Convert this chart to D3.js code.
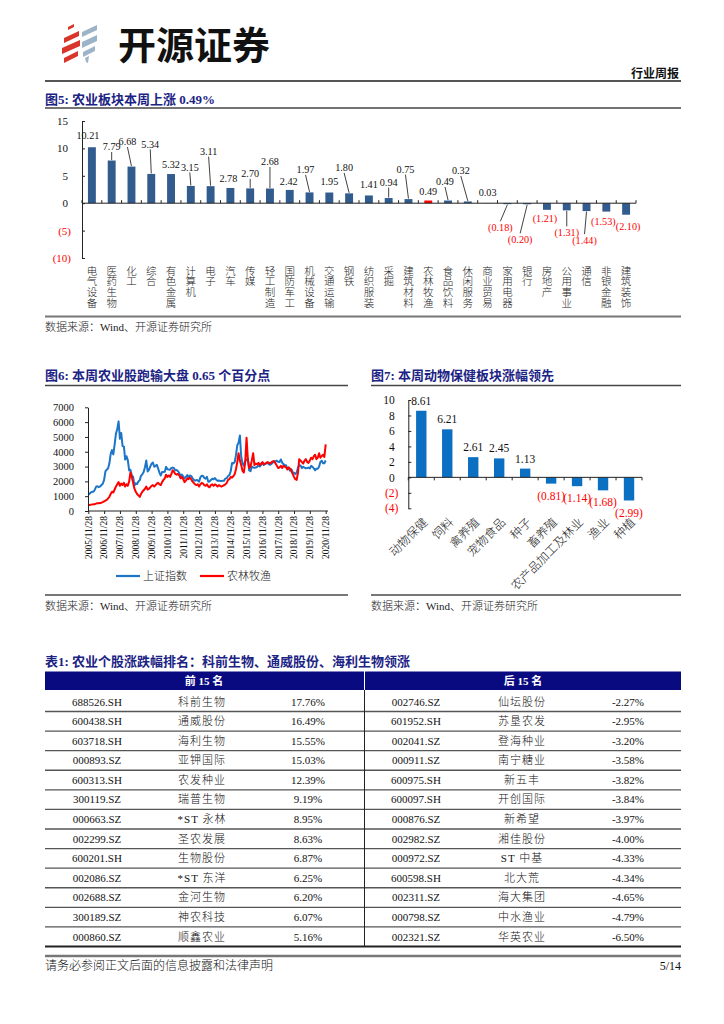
<!DOCTYPE html>
<html><head><meta charset="utf-8">
<script src="https://cdn.jsdelivr.net/npm/d3@7"></script>
<style>body{margin:0;background:#fff}svg{display:block}</style>
</head><body>
<svg id="page" width="724" height="1024"></svg>
<script>
// ---------------- DATA ----------------
const fig5Categories = ["电气设备","医药生物","化工","综合","有色金属","计算机","电子","汽车","传媒","轻工制造","国防军工","机械设备","交通运输","钢铁","纺织服装","采掘","建筑材料","农林牧渔","食品饮料","休闲服务","商业贸易","家用电器","银行","房地产","公用事业","通信","非银金融","建筑装饰"];
const fig5Values = [10.21,7.79,6.68,5.34,5.32,3.15,3.11,2.78,2.70,2.68,2.42,1.97,1.95,1.80,1.41,0.94,0.75,0.49,0.49,0.32,0.03,-0.18,-0.20,-1.21,-1.31,-1.44,-1.53,-2.10];
const fig5Highlight = "农林牧渔";
const fig5YTicks = [15,10,5,0,-5,-10];

const fig6XTickLabels = ["2005/11/28","2006/11/28","2007/11/28","2008/11/28","2009/11/28","2010/11/28","2011/11/28","2012/11/28","2013/11/28","2014/11/28","2015/11/28","2016/11/28","2017/11/28","2018/11/28","2019/11/28","2020/11/28"];
const fig6YTicks = [0,1000,2000,3000,4000,5000,6000,7000];
const fig6SeriesNames = ["上证指数","农林牧渔"];
// monthly values, Nov 2005 .. Nov 2020
const shIndex = [1100,1161,
1258,1299,1298,1440,1642,1672,1612,1658,1752,1837,2099,2675,
2786,2881,3183,3841,4109,3820,4471,5218,5552,6050,4871,5262,
4383,4348,3473,3693,3433,2736,2776,2397,2293,1729,1871,1821,
1991,2082,2374,2477,2633,2959,3412,2668,2779,2996,3195,3277,
2989,3051,3110,2871,2592,2398,2638,2639,2656,2979,2820,2808,
2791,2905,2928,2911,2743,2762,2701,2568,2359,2468,2333,2199,
2292,2428,2262,2396,2372,2225,2103,2047,2086,2069,1980,2269,
2385,2365,2236,2177,2300,1979,1994,2098,2174,2141,2220,2116,
2033,2056,2033,2026,2039,2048,2202,2217,2364,2420,2683,3235,
3210,3310,3748,4442,4612,5100,3664,3206,3053,3383,3445,3539,
2738,2688,3004,2938,2917,2930,2979,3085,3005,3100,3250,3104,
3159,3242,3223,3155,3117,3192,3273,3361,3349,3393,3317,3307,
3481,3259,3169,3082,3095,2847,2876,2725,2821,2603,2588,2494,
2585,2941,3091,3078,2899,2979,2932,2886,2905,2929,2871,3050,
2977,2880,2750,2860,2852,2985,3310,3396,3218,3225,3408];
const agriIndex = [400,410,
430,440,450,460,500,520,520,540,560,600,650,700,
750,850,950,1150,1300,1250,1450,1650,1800,1950,1700,1850,
1750,1900,1650,1800,1700,2000,2600,2300,1900,1500,1300,1150,
1050,950,1150,1300,1400,1500,1650,1450,1500,1600,1700,1750,
1650,1750,1850,1900,1800,1750,1950,2100,2200,2450,2300,2400,
2300,2500,2750,2650,2500,2450,2500,2400,2200,2300,2150,1950,
2050,2200,2150,2250,2150,2000,1900,1800,1750,1800,1650,1800,
1900,1850,1750,1700,1800,1650,1600,1750,1800,1700,1800,1750,
1650,1750,1700,1650,1700,1750,1800,1900,2100,2150,2300,2250,
2350,2500,2800,3300,3900,3400,3100,2700,2600,3300,4950,3500,
2900,3000,3400,3900,3100,3200,3150,3250,3100,3200,3300,3150,
3200,3250,3300,3250,3200,3300,3350,3350,3200,3050,2900,2950,
3050,2900,3050,3000,2950,2800,2950,2850,2700,2500,2300,2150,
2100,2600,3500,3400,3300,3200,3400,3500,3300,3250,3400,3600,
3500,3700,3800,3500,3600,3900,3600,3700,3800,3650,4500];

const fig7Categories = ["动物保健","饲料","禽养殖","宠物食品","种子","畜养殖","农产品加工及林业","渔业","种植"];
const fig7Values = [8.61,6.21,2.61,2.45,1.13,-0.81,-1.14,-1.68,-2.99];
const fig7YTicks = [10,8,6,4,2,0,-2,-4];

const topCodes = ["688526.SH","600438.SH","603718.SH","000893.SZ","600313.SH","300119.SZ","000663.SZ","002299.SZ","600201.SH","002086.SZ","002688.SZ","300189.SZ","000860.SZ"];
const topNames = ["科前生物","通威股份","海利生物","亚钾国际","农发种业","瑞普生物","*ST 永林","圣农发展","生物股份","*ST 东洋","金河生物","神农科技","顺鑫农业"];
const topPct = [17.76,16.49,15.55,15.03,12.39,9.19,8.95,8.63,6.87,6.25,6.20,6.07,5.16];
const bottomCodes = ["002746.SZ","601952.SH","002041.SZ","000911.SZ","600975.SH","600097.SH","000876.SZ","002982.SZ","000972.SZ","600598.SH","002311.SZ","000798.SZ","002321.SZ"];
const bottomNames = ["仙坛股份","苏垦农发","登海种业","南宁糖业","新五丰","开创国际","新希望","湘佳股份","ST 中基","北大荒","海大集团","中水渔业","华英农业"];
const bottomPct = [-2.27,-2.95,-3.20,-3.58,-3.82,-3.84,-3.97,-4.00,-4.33,-4.34,-4.65,-4.79,-6.50];

// label layout nudges for fig 5 (dx, dy px from bar end, leader flag)
const fig5LabelNudge = [[-4,-12,0],[0,-14,1],[-4,-25,1],[-1,-30,1],[0,-10,0],[-1,-19,1],[-2,-35,1],[-2,-10,0],[0,-15,1],[0,-27,1],[-1,-9,0],[-4,-23,1],[0,-11,0],[-5,-26,1],[0,-11,0],[0,-16,1],[-3,-30,1],[0,-9,0],[-3,-19,1],[-7,-31,1],[0,-11,0],[-7,23,1],[-7,35,1],[-2,9,0],[0,22,1],[-2,29,1],[-3,10,0],[2,11.5,0]];

// ---------------- STYLE ----------------
const SERIF = "'Liberation Serif','Noto Sans CJK SC',serif";
const CJK = "'Liberation Serif','Noto Sans CJK SC',sans-serif";
const NAVY = "#1B2384";
const RED = "#FF0000";
const fmt2 = v => v < 0 ? "(" + Math.abs(v).toFixed(2) + ")" : v.toFixed(2);
const fmtInt = v => v < 0 ? "(" + Math.abs(v) + ")" : String(v);

const svg = d3.select("#page");
svg.append("rect").attr("width",724).attr("height",1024).attr("fill","#fff");

// ---------------- HEADER ----------------
const logo = svg.append("g");
const redPolys = [[[68,27],[74,24],[74,27],[68,30]],[[64,38],[79,31],[79,36],[64,43]],[[62,48],[80,40],[80,46],[62,54]],[[64,58],[78,51],[78,56],[64,63]]];
const bluePolys = [[[82,32],[97,25],[97,30],[82,37]],[[82,42],[97,35],[97,41],[82,48]],[[83,52],[95,46],[95,51],[83,57]],[[85,58],[89,56],[88,63],[86,62]]];
logo.selectAll("path.r").data(redPolys).join("path").attr("d",p=>d3.line()(p)+"Z").attr("fill","#D8352B");
logo.selectAll("path.b").data(bluePolys).join("path").attr("d",p=>d3.line()(p)+"Z").attr("fill","#9DB4C8");
svg.append("text").attr("x",118).attr("y",58.5).text("开源证券")
  .attr("font-family","'Noto Sans CJK SC',sans-serif").attr("font-weight",700).attr("font-size",38).attr("fill","#111");
svg.append("text").attr("x",679).attr("y",78).attr("text-anchor","end").text("行业周报")
  .attr("font-family",CJK).attr("font-weight",700).attr("font-size",12).attr("fill","#111");
svg.append("line").attr("x1",45).attr("x2",681).attr("y1",81).attr("y2",81).attr("stroke","#555").attr("stroke-width",2);

function title(x,y,t){
  svg.append("text").attr("x",x).attr("y",y).text(t).attr("font-family",CJK).attr("font-weight",700)
    .attr("font-size",13).attr("fill",NAVY);
}
function hline(x1,x2,y,w,c){
  svg.append("line").attr("x1",x1).attr("x2",x2).attr("y1",y).attr("y2",y).attr("stroke",c||"#555").attr("stroke-width",w||1.5);
}
function source(x,y){
  svg.append("text").attr("x",x).attr("y",y).text("数据来源：Wind、开源证券研究所")
    .attr("font-family",CJK).attr("font-weight",300).attr("font-size",11).attr("fill","#222");
}

// ---------------- FIG 5 ----------------
title(45,104,"图5:  农业板块本周上涨 0.49%");
hline(45,681,108,1.5,"#444");
const g5 = svg.append("g");
const x5 = d3.scaleBand().domain(fig5Categories).range([82,636]).paddingInner(0.6).paddingOuter(0.3);
const y5 = d3.scaleLinear().domain([-10,15]).range([258,121]);
g5.selectAll("rect.bar").data(fig5Values).join("rect")
  .attr("x",(d,i)=>x5(fig5Categories[i])).attr("width",x5.bandwidth())
  .attr("y",d=>y5(Math.max(0,d))).attr("height",d=>Math.abs(y5(d)-y5(0)))
  .attr("fill",(d,i)=>fig5Categories[i]===fig5Highlight?RED:"#335C8E");
const ay5 = g5.append("g").attr("transform","translate(82,0)")
  .call(d3.axisLeft(y5).tickValues(fig5YTicks).tickSize(-3).tickSizeOuter(0).tickPadding(0).tickFormat(fmtInt));
ay5.select(".domain").attr("stroke","#222");
ay5.selectAll(".tick line").attr("stroke","#222");
ay5.selectAll(".tick text").attr("x",d=>d<0?-11:-14).attr("font-family",SERIF).attr("font-size",11)
  .attr("fill",d=>d<0?RED:"#111");
g5.append("line").attr("x1",x5.range()[0]).attr("x2",x5.range()[1]).attr("y1",y5(0)).attr("y2",y5(0)).attr("stroke","#222");
const b5 = fig5Categories.map(c=>x5(c)-x5.step()*0.3).concat([x5.range()[1]]);
g5.selectAll("line.bt").data(b5).join("line").attr("x1",d=>d).attr("x2",d=>d).attr("y1",y5(0)).attr("y2",y5(0)-3).attr("stroke","#222");
fig5Values.forEach((v,i)=>{
  const c = x5(fig5Categories[i]) + x5.bandwidth()/2;
  const ye = y5(v);
  const [dx,dy,lead] = fig5LabelNudge[i];
  const lx = c+dx, ly = ye+dy;
  if(lead){
    const y1 = v>=0 ? ly+5.5 : ly-6;
    g5.append("line").attr("x1",lx).attr("y1",y1).attr("x2",c).attr("y2",v>=0?ye-0.5:ye+0.5).attr("stroke","#111").attr("stroke-width",0.8);
  }
  g5.append("text").attr("x",lx).attr("y",ly).attr("dy","0.35em").attr("text-anchor","middle").text(fmt2(v))
    .attr("font-family",SERIF).attr("font-size",10.2).attr("fill",v<0?RED:"#111");
});
fig5Categories.forEach(c=>{
  const cx = x5(c)+x5.bandwidth()/2;
  const t = g5.append("text").attr("font-family",CJK).attr("font-weight",300).attr("font-size",10.5).attr("fill","#222").attr("text-anchor","middle");
  Array.from(c).forEach((ch,k)=>{
    t.append("tspan").attr("x",cx).attr("y",271+k*10.7).attr("dy","0.35em").text(ch);
  });
});
hline(45,681,316.5,2,"#777");
source(45,331);

// ---------------- FIG 6 ----------------
title(45,380,"图6:  本周农业股跑输大盘 0.65 个百分点");
hline(45,348,385.5,1.5,"#444");
const parseTick = d3.timeParse("%Y/%m/%d");
const x6 = d3.scaleTime().domain([parseTick(fig6XTickLabels[0]),parseTick(fig6XTickLabels[fig6XTickLabels.length-1])]).range([88.3,325.7]);
const y6 = d3.scaleLinear().domain([0,7000]).range([511,407.3]);
const dates6 = shIndex.map((v,i)=>new Date(2005,10+i,28));
const g6 = svg.append("g");
const line6 = d3.line().x((d,i)=>x6(dates6[i])).y(d=>y6(d));
g6.append("path").datum(shIndex).attr("d",line6).attr("fill","none").attr("stroke","#1C75C8").attr("stroke-width",2).attr("stroke-linejoin","round");
g6.append("path").datum(agriIndex).attr("d",line6).attr("fill","none").attr("stroke",RED).attr("stroke-width",2).attr("stroke-linejoin","round");
const ay6 = g6.append("g").attr("transform","translate(88,0)")
  .call(d3.axisLeft(y6).tickValues(fig6YTicks).tickSize(3).tickSizeOuter(0).tickPadding(11).tickFormat(d=>String(d)));
ay6.selectAll("path,line").attr("stroke","#222");
ay6.selectAll(".tick text").attr("font-family",SERIF).attr("font-size",10.5).attr("fill","#111");
const ax6 = g6.append("g").attr("transform","translate(0,511)")
  .call(d3.axisBottom(x6).tickValues(fig6XTickLabels.map(parseTick)).tickSize(3).tickSizeOuter(0).tickFormat(()=>""));
ax6.select(".domain").attr("d","M88,0H328");
ax6.selectAll("path,line").attr("stroke","#222");
fig6XTickLabels.forEach(s=>{
  g6.append("text").attr("transform",`translate(${x6(parseTick(s))},516) rotate(-90)`).attr("text-anchor","end").attr("dy","0.35em")
    .text(s).attr("font-family",SERIF).attr("font-size",9.5).attr("fill","#111");
});
[["#1C75C8",116,143],[RED,200,227]].forEach((l,i)=>{
  g6.append("line").attr("x1",l[1]).attr("x2",l[1]+24).attr("y1",576).attr("y2",576).attr("stroke",l[0]).attr("stroke-width",2.2);
  g6.append("text").attr("x",l[2]).attr("y",576).attr("dy","0.35em").text(fig6SeriesNames[i]).attr("font-family",CJK).attr("font-weight",300).attr("font-size",11).attr("fill","#111");
});
hline(45,348,595,2,"#777");
source(45,610);

// ---------------- FIG 7 ----------------
title(371,380,"图7:  本周动物保健板块涨幅领先");
hline(371,681,385.5,1.5,"#444");
const g7 = svg.append("g");
const x7 = d3.scaleBand().domain(fig7Categories).range([408.3,642]).paddingInner(0.6).paddingOuter(0.3);
const y7 = d3.scaleLinear().domain([-4,10]).range([508.3,400]);
g7.selectAll("rect").data(fig7Values).join("rect")
  .attr("x",(d,i)=>x7(fig7Categories[i])).attr("width",x7.bandwidth())
  .attr("y",d=>y7(Math.max(0,d))).attr("height",d=>Math.abs(y7(d)-y7(0))).attr("fill","#0B6FC2");
const ay7 = g7.append("g").attr("transform","translate(408.3,0)")
  .call(d3.axisLeft(y7).tickValues(fig7YTicks).tickSize(-3).tickSizeOuter(0).tickPadding(0).tickFormat(fmtInt));
ay7.selectAll("path,line").attr("stroke","#222");
ay7.selectAll(".tick text").attr("x",d=>d<0?-10:-13.5).attr("font-family",SERIF).attr("font-size",11.5).attr("fill",d=>d<0?RED:"#111");
g7.append("line").attr("x1",x7.range()[0]).attr("x2",x7.range()[1]).attr("y1",y7(0)).attr("y2",y7(0)).attr("stroke","#222");
const b7 = fig7Categories.map(c=>x7(c)-x7.step()*0.3).concat([x7.range()[1]]);
g7.selectAll("line.bt").data(b7).join("line").attr("x1",d=>d).attr("x2",d=>d).attr("y1",y7(0)).attr("y2",y7(0)+3).attr("stroke","#222");
fig7Values.forEach((v,i)=>{
  const c = x7(fig7Categories[i])+x7.bandwidth()/2;
  g7.append("text").attr("x",c).attr("y",y7(v)+(v>=0?-10:12)).attr("dy","0.35em").attr("text-anchor","middle")
    .text(fmt2(v)).attr("font-family",SERIF).attr("font-size",11.5).attr("fill",v<0?RED:"#111");
  g7.append("text").attr("transform",`translate(${c+4},520) rotate(-45)`).attr("text-anchor","end").attr("dy","0.35em")
    .text(fig7Categories[i]).attr("font-family",CJK).attr("font-weight",300).attr("font-size",12).attr("fill","#222");
});
hline(371,681,595,2,"#777");
source(371,610);

// ---------------- TABLE ----------------
title(45,666,"表1:  农业个股涨跌幅排名：科前生物、通威股份、海利生物领涨");
const tg = svg.append("g");
tg.append("rect").attr("x",45).attr("y",671.5).attr("width",319).attr("height",18.5).attr("fill","#0A0A80");
tg.append("rect").attr("x",365).attr("y",671.5).attr("width",316).attr("height",18.5).attr("fill","#0A0A80");
[["前 15 名",204],["后 15 名",523]].forEach(h=>{
  tg.append("text").attr("x",h[1]).attr("y",681).attr("dy","0.35em").attr("text-anchor","middle").text(h[0])
    .attr("font-family",CJK).attr("font-weight",700).attr("font-size",11).attr("fill","#fff");
});
const rowY = d3.scaleLinear().domain([0,12]).range([701.7,936.7]);
const pctFmt = v => v.toFixed(2) + "%";
function col(arr, x, f, fam, ls, w){
  tg.selectAll(null).data(arr).join("text").attr("x",x).attr("y",(d,i)=>rowY(i)).attr("dy","0.35em")
    .attr("text-anchor","middle").text(f||(d=>d)).attr("font-family",fam).attr("font-size",11)
    .attr("font-weight",w||400).attr("letter-spacing",ls||0).attr("fill","#111");
}
col(topCodes,97,null,SERIF);
col(topNames,202,null,CJK,1,300);
col(topPct,308,pctFmt,SERIF);
col(bottomCodes,416,null,SERIF);
col(bottomNames,522,null,CJK,1,300);
col(bottomPct,628,pctFmt,SERIF);
topCodes.forEach((d,i)=>{
  const y = rowY(i)+9.8;
  const last = i===topCodes.length-1;
  tg.append("line").attr("x1",45).attr("x2",681).attr("y1",y).attr("y2",y).attr("stroke",last?"#222":"#555").attr("stroke-width",last?2:1.4);
});
tg.append("line").attr("x1",364.5).attr("x2",364.5).attr("y1",690).attr("y2",rowY(12)+9.8).attr("stroke","#222").attr("stroke-width",1);

// ---------------- FOOTER ----------------
hline(45,681,956,2.5,"#777");
svg.append("text").attr("x",45).attr("y",969.5).text("请务必参阅正文后面的信息披露和法律声明")
  .attr("font-family",CJK).attr("font-weight",300).attr("font-size",12).attr("fill","#111");
svg.append("text").attr("x",681).attr("y",969.5).attr("text-anchor","end").text("5/14")
  .attr("font-family",SERIF).attr("font-size",12).attr("fill","#111");
</script>
</body></html>
